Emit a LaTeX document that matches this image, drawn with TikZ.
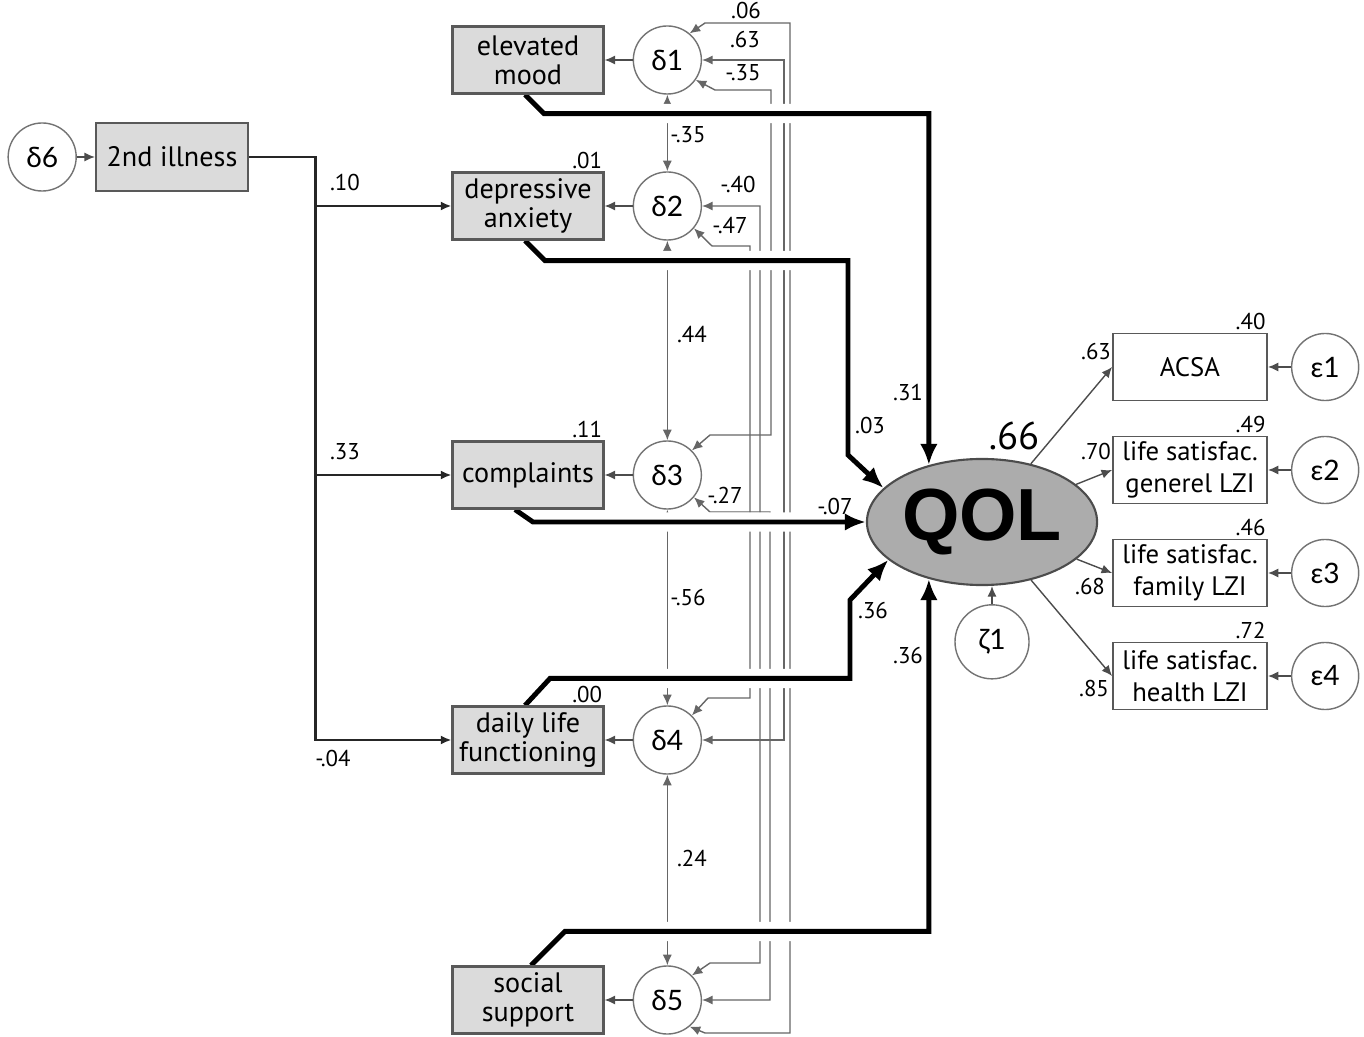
\documentclass[tikz,border=0pt]{standalone}
\usepackage{fontspec}
\setmainfont{PT Sans}
\newfontfamily\grk{Lato}
\newfontfamily\qolfont{Liberation Sans}
\usepackage{tikz}
\usetikzlibrary{arrows.meta,positioning,shapes.geometric}
\pgfdeclarelayer{corr}
\pgfdeclarelayer{paths}
\pgfsetlayers{corr,paths,main}

\begin{document}
\begin{tikzpicture}[
  x=0.01cm, y=-0.01cm,
  obs/.style={rectangle, draw=black!65, fill=gray!28, line width=0.6pt, minimum width=1.51cm, minimum height=0.67cm, inner sep=1pt, font=\fontsize{8}{8.2}\selectfont, align=center},
  ind/.style={rectangle, draw=black!65, fill=white, line width=0.5pt, minimum width=1.54cm, minimum height=0.67cm, inner sep=1pt, font=\fontsize{7.6}{9.2}\selectfont, align=center},
  err/.style={circle, draw=black!55, fill=white, line width=0.4pt, minimum size=0.68cm, inner sep=0pt, font=\grk\fontsize{8}{8}\selectfont},
  latent/.style={ellipse, draw=black!70, fill=gray!65, line width=0.6pt, minimum width=2.3cm, minimum height=1.26cm, inner sep=0pt, font=\qolfont\bfseries\fontsize{21}{21}\selectfont},
  lbl/.style={font=\fontsize{6.5}{6.5}\selectfont, inner sep=0.5pt},
  sarr/.style={-{Latex[length=3pt,width=2.6pt]}, line width=0.4pt, color=black!70},
  corr/.style={{Latex[length=3pt,width=2.6pt]}-{Latex[length=3pt,width=2.6pt]}, line width=0.4pt, color=black!60},
  ipath/.style={-{Latex[length=3pt,width=2.6pt]}, line width=0.8pt, color=black!85},
  qpath/.style={-{Latex[length=6pt,width=5pt]}, line width=1.4pt, preaction={draw=white, line width=5.5pt, arrows=-}}
]
\useasboundingbox (0,0) rectangle (1364,1037);

% Predictors and their disturbances
\node[obs] (elev) at (528,60) {elevated\\mood};
\node[obs] (depr) at (528,206) {depressive\\anxiety};
\node[obs] (compl) at (528,475) {complaints};
\node[obs] (daily) at (528,740) {daily life\\functioning};
\node[obs] (soc) at (528,1000) {social\\support};

\node[err, right=0.28cm of elev] (d1) {δ1};
\node[err, right=0.28cm of depr] (d2) {δ2};
\node[err, right=0.28cm of compl] (d3) {δ3};
\node[err, right=0.28cm of daily] (d4) {δ4};
\node[err, right=0.28cm of soc] (d5) {δ5};

\foreach \d/\b in {d1/elev, d2/depr, d3/compl, d4/daily, d5/soc}
  \draw[sarr] (\d) -- (\b);

% Second illness
\node[obs, minimum width=1.52cm, minimum height=0.68cm] (ill) at (172,157) {2nd illness};
\node[err, left=0.18cm of ill] (d6) {δ6};
\draw[sarr] (d6) -- (ill);

\draw[ipath] (ill.east) -| ([xshift=-1.36cm]daily.west) -- (daily.west);
\draw[ipath] ([xshift=-1.36cm]depr.west) -- (depr.west);
\draw[ipath] ([xshift=-1.36cm]compl.west) -- (compl.west);

\node[lbl] at (345,183) {.10};
\node[lbl] at (345,452) {.33};
\node[lbl] at (333,758) {-.04};

\node[lbl, anchor=south east] at (depr.north east) {.01};
\node[lbl, anchor=south east] at (compl.north east) {.11};
\node[lbl, anchor=south east] at (daily.north east) {.00};

% Latent outcome and indicators
\node[latent] (qol) at (982,522) {QOL};
\node[err, minimum size=0.74cm, below=0.18cm of qol, xshift=0.1cm] (z1) {ζ1};
\draw[sarr] (z1.north) -- (z1.north |- qol.south);
\node[font=\fontsize{11}{11}\selectfont] at (1014,436) {.66};

\node[ind] (acsa) at (1190,367) {ACSA};
\node[ind] (gen) at (1190,470) {life satisfac.\\generel LZI};
\node[ind] (fam) at (1190,573) {life satisfac.\\family LZI};
\node[ind] (hlt) at (1190,676) {life satisfac.\\health LZI};

\node[err, minimum size=0.67cm, right=0.23cm of acsa] (e1) {ε1};
\node[err, minimum size=0.67cm, right=0.23cm of gen] (e2) {ε2};
\node[err, minimum size=0.67cm, right=0.23cm of fam] (e3) {ε3};
\node[err, minimum size=0.67cm, right=0.23cm of hlt] (e4) {ε4};

\foreach \e/\b/\r in {e1/acsa/.40, e2/gen/.49, e3/fam/.46, e4/hlt/.72} {
  \draw[sarr] (\e) -- (\b);
  \draw[sarr] (qol) -- (\b.west);
  \node[lbl, anchor=south east] at (\b.north east) {\r};
}

\node[lbl] at (1096,352) {.63};
\node[lbl] at (1096,452) {.70};
\node[lbl] at (1090,586) {.68};
\node[lbl] at (1094,688) {.85};

% Structural paths to QOL
\begin{pgfonlayer}{paths}
\draw[qpath] ([xshift=-0.03cm]elev.south) -- ++(19,19) -| (qol.133);
\draw[qpath] ([xshift=-0.03cm]depr.south) -- ++(20,20) -| (848,455) -- (qol.161);
\draw[qpath] ([xshift=-0.13cm]compl.south) -- (533,0 |- qol.west) -- (qol.west);
\draw[qpath] ([xshift=-0.03cm]daily.north) -- ++(25,-27) -| (850,600) -- (qol.202);
\draw[qpath] ([xshift=0.03cm]soc.north) -- ++(34,-34) -| (qol.227);
\end{pgfonlayer}

\node[lbl] at (908,393) {.31};
\node[lbl] at (870,426) {.03};
\node[lbl] at (835,507) {-.07};
\node[lbl] at (873,611) {.36};
\node[lbl] at (908,655) {.36};

% Disturbance correlations
\begin{pgfonlayer}{corr}
\draw[corr] (d1) -- (d2);
\draw[corr] (d2) -- (d3);
\draw[corr] (d3) -- (d4);
\draw[corr] (d4) -- (d5);
\draw[corr] (d1.50) -- (705,23) -- (790,23) -- (790,1033) -- (705,1033) -- (d5.-50);
\draw[corr] (d1.east) -| ([xshift=0.82cm]d4.east) -- (d4.east);
\draw[corr] (d1.-35) -- (715,90) -| (771,435) -- (710,435) -- (d3.45);
\draw[corr] (d2.-40) -- (712,246) -| (750,698) -- (708,698) -- (d4.45);
\draw[corr] (d2.east) -| (760,963) -- (710,963) -- (d5.45);
\draw[corr] (d3.-40) -- (710,512) -| (770,1000) -- (d5.east);
\end{pgfonlayer}

\node[lbl] at (688,135) {-.35};
\node[lbl] at (692,335) {.44};
\node[lbl] at (688,598) {-.56};
\node[lbl] at (692,858) {.24};
\node[lbl, anchor=north] at (746,0) {.06};
\node[lbl] at (745,40) {.63};
\node[lbl] at (743,73) {-.35};
\node[lbl] at (738,185) {-.40};
\node[lbl] at (730,226) {-.47};
\node[lbl] at (725,496) {-.27};

\end{tikzpicture}
\end{document}
